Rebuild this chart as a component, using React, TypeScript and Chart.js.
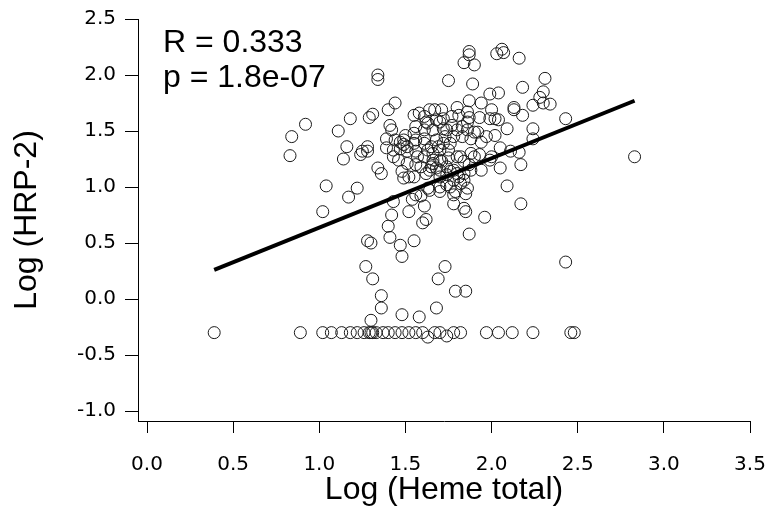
import React, { useEffect, useRef } from "react";
import { Chart, registerables } from "chart.js";

Chart.register(...registerables);

// ---- Axis definitions ----
const xTicks = [0, 0.5, 1.0, 1.5, 2.0, 2.5, 3.0, 3.5];
const yTicks = [-1.0, -0.5, 0, 0.5, 1.0, 1.5, 2.0, 2.5];
const xTitle = "Log (Heme total)";
const yTitle = "Log (HRP-2)";
const statLines = ["R = 0.333", "p = 1.8e-07"];

// ---- Regression line (end points) ----
const fitX = [0.39, 2.83];
const fitY = [0.26, 1.77];

// ---- Scatter data: scattered / low-value group ----
const hemeA = [
  0.84, 0.83, 0.92, 1.11, 1.18, 1.04, 1.14, 1.16, 1.17, 1.22,
  1.02, 1.24, 1.25, 1.28, 1.28, 1.29, 1.31, 1.34, 1.34, 1.34,
  1.36, 1.44, 1.40, 1.41, 1.39, 1.42, 1.44, 1.39, 1.43, 1.43,
  1.46, 1.47, 1.49, 1.51, 1.48, 1.52, 1.43, 1.42, 1.40, 1.41,
  1.28, 1.30, 1.27, 1.31, 1.36, 1.36, 1.30, 1.48, 1.48, 1.47,
  1.55, 1.58, 1.52, 1.61, 1.54, 1.59, 1.63, 1.60, 1.62, 1.70,
  1.74, 1.79, 1.78, 1.84, 1.85, 1.82, 1.85, 1.86, 1.87, 1.96,
  2.09, 2.17, 2.43, 1.73, 1.69, 1.79, 1.85, 1.68,
];
const hrpA = [
  1.45, 1.28, 1.56, 1.50, 1.61, 1.01, 1.25, 1.36, 0.91, 0.99,
  0.78, 1.29, 1.32, 1.36, 1.32, 1.62, 1.65, 2.00, 1.96, 1.17,
  1.12, 1.75, 1.69, 1.55, 1.43, 1.51, 1.42, 1.35, 1.33, 1.27,
  1.24, 1.34, 1.42, 1.36, 1.14, 1.09, 0.87, 0.75, 0.65, 0.55,
  0.52, 0.50, 0.29, 0.18, 0.03, -0.08, -0.19, -0.14, 0.38, 0.48,
  0.52, -0.16, 0.78, 0.83, 0.89, 0.92, 0.99, 0.68, 0.71, 0.96,
  1.02, 0.96, 0.85, 0.81, 0.78, 1.03, 0.94, 0.99, 0.58, 0.73,
  1.01, 0.85, 0.33, 0.29, 0.18, 0.07, 0.07, -0.08,
];

// ---- Scatter data: upper-right group ----
const hemeB = [
  1.87, 1.87, 1.84, 1.90, 2.06, 2.03, 2.07, 2.16, 1.75, 1.89,
  2.31, 2.18, 2.30, 2.28, 2.30, 2.34, 2.24, 2.13, 2.13, 2.18,
  2.43, 1.99, 2.04, 1.87, 1.94, 1.80, 2.00, 2.02, 2.04, 1.99,
  1.93, 1.87, 1.86, 1.77, 1.72, 1.83, 2.09, 2.24, 2.24, 1.97,
  2.02, 1.90, 1.92, 2.05, 2.11, 2.16, 2.17, 2.05, 2.00, 2.83,
];
const hrpB = [
  2.21, 2.18, 2.11, 2.09, 2.23, 2.19, 2.20, 2.15, 1.95, 1.92,
  1.97, 1.89, 1.85, 1.80, 1.75, 1.74, 1.73, 1.71, 1.69, 1.64,
  1.61, 1.83, 1.84, 1.77, 1.75, 1.71, 1.69, 1.61, 1.60, 1.61,
  1.62, 1.62, 1.58, 1.63, 1.61, 1.54, 1.52, 1.52, 1.43, 1.45,
  1.46, 1.49, 1.49, 1.35, 1.32, 1.31, 1.20, 1.17, 1.27, 1.27,
];

// ---- Scatter data: dense central cluster ----
const hemeC = [
  1.55, 1.58, 1.61, 1.64, 1.67, 1.71, 1.62, 1.63, 1.68, 1.56,
  1.61, 1.66, 1.77, 1.74, 1.73, 1.78, 1.80, 1.86, 1.50, 1.49,
  1.55, 1.61, 1.65, 1.63, 1.66, 1.69, 1.72, 1.76, 1.75, 1.57,
  1.61, 1.66, 1.70, 1.75, 1.80, 1.59, 1.65, 1.66, 1.70, 1.74,
  1.78, 1.88, 1.90, 1.82, 1.55, 1.62, 1.74, 1.81, 1.84, 1.49,
  1.70, 1.81, 1.86, 1.72, 1.55, 1.47, 1.56, 1.61, 1.68, 1.83,
  1.88, 1.94, 1.51, 1.56, 1.70, 1.93, 1.99, 1.71, 1.84, 1.87,
  1.51, 1.56, 1.64, 1.68, 1.76, 1.80, 1.94, 1.88, 1.70, 1.78,
  1.84, 1.70, 1.76, 1.64, 1.56, 1.78,
];
const hrpC = [
  1.64, 1.66, 1.63, 1.69, 1.69, 1.69, 1.58, 1.57, 1.60, 1.54,
  1.51, 1.51, 1.55, 1.51, 1.45, 1.45, 1.51, 1.51, 1.46, 1.38,
  1.39, 1.39, 1.36, 1.33, 1.30, 1.36, 1.39, 1.39, 1.33, 1.27,
  1.27, 1.24, 1.24, 1.26, 1.27, 1.18, 1.18, 1.21, 1.15, 1.18,
  1.15, 1.30, 1.27, 1.27, 1.09, 1.12, 1.11, 1.09, 1.12, 1.08,
  1.58, 1.64, 1.67, 1.52, 1.48, 1.40, 1.42, 1.43, 1.42, 1.45,
  1.43, 1.40, 1.32, 1.32, 1.33, 1.29, 1.24, 1.23, 1.23, 1.20,
  1.21, 1.20, 1.15, 1.17, 1.14, 1.12, 1.15, 1.15, 1.09, 1.06,
  1.06, 1.00, 1.00, 0.97, 0.93, 0.93,
];

// ---- Scatter data: detection-limit floor row ----
const hemeFloor = [
  0.39, 0.89, 1.02, 1.07, 1.13, 1.18, 1.22, 1.26, 1.29, 1.30,
  1.31, 1.33, 1.37, 1.40, 1.44, 1.48, 1.52, 1.56, 1.60, 1.63,
  1.67, 1.70, 1.74, 1.78, 1.82, 1.97, 2.04, 2.12, 2.24, 2.46,
  2.48,
];
const hrpFloor = [
  -0.30, -0.30, -0.30, -0.30, -0.30, -0.30, -0.30, -0.30, -0.30, -0.30,
  -0.30, -0.30, -0.30, -0.30, -0.30, -0.30, -0.30, -0.30, -0.30, -0.34,
  -0.30, -0.30, -0.33, -0.30, -0.30, -0.30, -0.30, -0.30, -0.30, -0.30,
  -0.30,
];

const hemeAll = [...hemeA, ...hemeB, ...hemeC, ...hemeFloor];
const hrpAll = [...hrpA, ...hrpB, ...hrpC, ...hrpFloor];

const statsPlugin = {
  id: "statsText",
  afterDraw(chart: any) {
    const { ctx, chartArea } = chart;
    ctx.save();
    ctx.font = '32px "Liberation Sans", Arial, sans-serif';
    ctx.fillStyle = "#000";
    ctx.textAlign = "left";
    ctx.textBaseline = "alphabetic";
    statLines.forEach((t, i) => {
      ctx.fillText(t, chartArea.left + 25, chartArea.top + 33 + i * 35);
    });
    ctx.restore();
  },
};

export default function App() {
  const canvasRef = useRef<HTMLCanvasElement | null>(null);

  useEffect(() => {
    document.body.style.margin = "0";
    const canvas = canvasRef.current;
    if (!canvas) return;

    const points = hemeAll.map((x, i) => ({ x, y: hrpAll[i] }));
    const fit = fitX.map((x, i) => ({ x, y: fitY[i] }));

    const tickFont = { family: "DejaVu Sans", size: 20 };
    const titleFont = { family: "Liberation Sans", size: 32, lineHeight: 1 };

    const chart = new Chart(canvas, {
      type: "scatter",
      data: {
        datasets: [
          {
            type: "line",
            data: fit,
            borderColor: "#000",
            borderWidth: 4,
            pointRadius: 0,
            fill: false,
            showLine: true,
            order: 0,
          } as any,
          {
            type: "scatter",
            data: points,
            pointStyle: "circle",
            pointRadius: 6,
            borderWidth: 1,
            borderColor: "#1a1a1a",
            backgroundColor: "rgba(0,0,0,0)",
            order: 1,
          } as any,
        ],
      },
      options: {
        animation: false,
        responsive: false,
        devicePixelRatio: 1,
        events: [],
        layout: { padding: { top: 19, right: 15, left: 0, bottom: 0 } },
        plugins: {
          legend: { display: false },
          tooltip: { enabled: false },
        },
        scales: {
          x: {
            type: "linear",
            min: -0.0523,
            max: 3.5,
            afterBuildTicks: (s: any) => {
              s.ticks = xTicks.map((v) => ({ value: v }));
            },
            afterFit: (s: any) => {
              s.height = 87;
              s.paddingLeft = 0;
              s.paddingRight = 0;
            },
            ticks: {
              callback: (v: any) => Number(v).toFixed(1),
              color: "#000",
              font: tickFont,
              padding: 20,
              maxRotation: 0,
              autoSkip: false,
            },
            grid: {
              display: true,
              drawOnChartArea: false,
              drawTicks: true,
              tickLength: 12,
              color: "#000",
              lineWidth: 1,
            },
            border: { display: true, color: "#000", width: 1 },
            title: {
              display: true,
              text: xTitle,
              color: "#000",
              font: titleFont,
              padding: { top: 0, bottom: 2 },
            },
          },
          y: {
            type: "linear",
            min: -1.089,
            max: 2.5,
            afterBuildTicks: (s: any) => {
              s.ticks = yTicks.map((v) => ({ value: v }));
            },
            afterFit: (s: any) => {
              s.width = 138;
              s.paddingTop = 0;
              s.paddingBottom = 0;
            },
            ticks: {
              callback: (v: any) => Number(v).toFixed(1),
              color: "#000",
              font: tickFont,
              padding: 9,
              autoSkip: false,
            },
            grid: {
              display: true,
              drawOnChartArea: false,
              drawTicks: true,
              tickLength: 13,
              color: "#000",
              lineWidth: 1,
            },
            border: { display: true, color: "#000", width: 1 },
            title: {
              display: true,
              text: yTitle,
              color: "#000",
              font: titleFont,
              padding: { top: 11, bottom: 0 },
            },
          },
        },
      },
      plugins: [statsPlugin],
    });

    return () => {
      chart.destroy();
    };
  }, []);

  return (
    <div style={{ width: 765, height: 508 }}>
      <canvas ref={canvasRef} width={765} height={508} />
    </div>
  );
}
